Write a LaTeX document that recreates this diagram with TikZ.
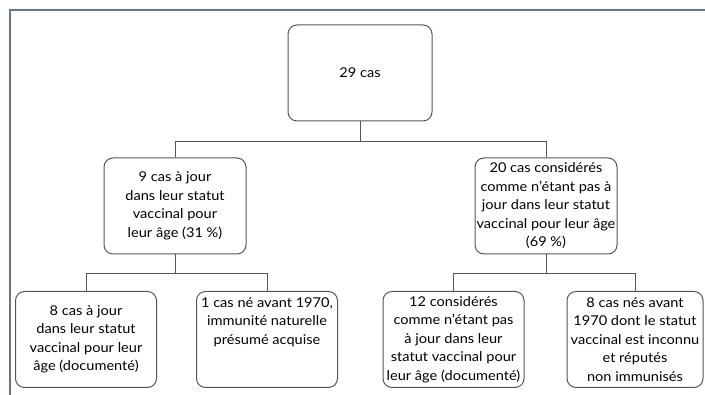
\documentclass[tikz,border=0pt]{standalone}
\usepackage{fontspec}
\setmainfont{Lato}[FakeStretch=1.08]
\definecolor{boxgray}{HTML}{555555}
\definecolor{framegray}{HTML}{66778A}
\tikzset{
	casebox/.style={draw=boxgray, line width=1pt, rounded corners=9pt, align=center,
		minimum width=141pt, minimum height=96pt, inner sep=1pt,
		font=\fontsize{13.5}{18.5}\selectfont},
	link/.style={draw=boxgray, line width=0.9pt},
}

\begin{document}
\begin{tikzpicture}[x=1pt, y=-1pt]
		%%%%% START %%%%%
		
		\useasboundingbox (0,0) rectangle (705,395);
		\draw[line width=1.2pt, color=framegray] (10,395) -- (10,10) -- (705,10);
		
		\node[casebox, minimum width=144pt] (total) at (360,73) {29 cas};
		
		\node[casebox, minimum width=142pt] (upto) at (175,206) {9 cas à jour\\dans leur statut\\vaccinal pour\\leur âge (31 \%)};
		\node[casebox, minimum width=142pt] (notup) at (546,206) {20 cas considérés\\comme n’étant pas à\\jour dans leur statut\\vaccinal pour leur âge\\(69 \%)};
		
		\node[casebox] (updoc) at (86,339.5) {8 cas à jour\\dans leur statut\\vaccinal pour leur\\âge (documenté)};
		\node[casebox] (before) at (267,339.5) {1 cas né avant 1970,\\immunité naturelle\\présumé acquise\\[18.5pt]};
		\node[casebox] (notdoc) at (453.5,339.5) {12 considérés\\comme n’étant pas\\à jour dans leur\\statut vaccinal pour\\leur âge (documenté)};
		\node[casebox, minimum width=136pt] (unknown) at (635,339.5) {8 cas nés avant\\1970 dont le statut\\vaccinal est inconnu\\et réputés\\non immunisés};
		
		\draw[link] (total.south) -- ++(0,19.5) -| (upto.north);
		\draw[link] (total.south) -- ++(0,19.5) -| (notup.north);
		
		\draw[link] (upto.south) -- ++(0,19) -| (updoc.north);
		\draw[link] (upto.south) -- ++(0,19) -| (before.north);
		\draw[link] (notup.south) -- ++(0,19) -| (notdoc.north);
		\draw[link] (notup.south) -- ++(0,19) -| (unknown.north);
		
		%%%%% END %%%%%
	\end{tikzpicture}
\end{document}
